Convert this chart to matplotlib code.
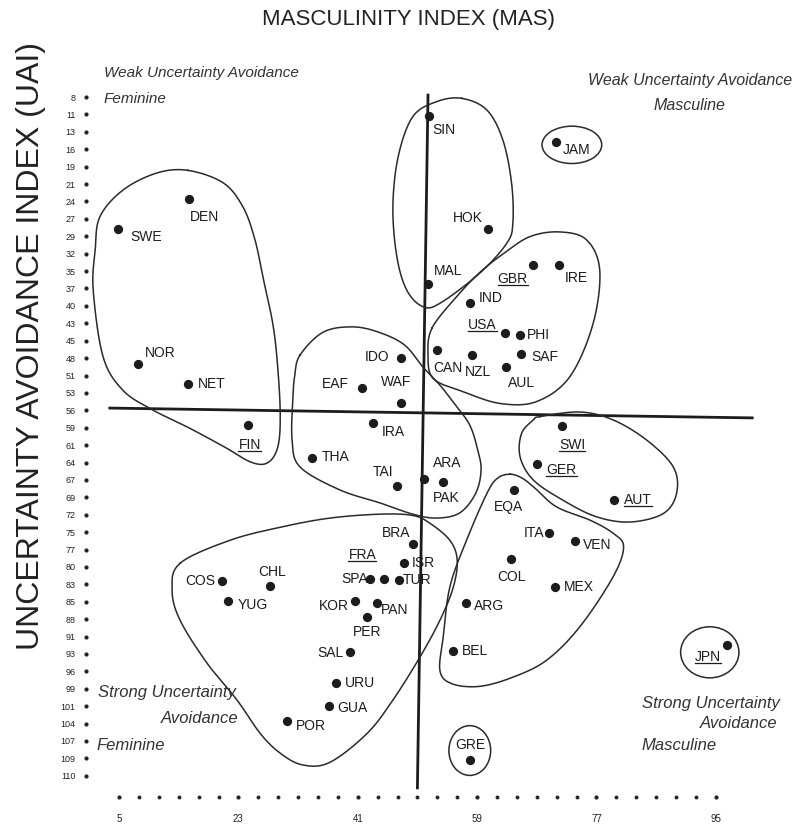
import numpy as np
import matplotlib
matplotlib.use('Agg')
import matplotlib.pyplot as plt
from matplotlib.patches import Ellipse
from matplotlib.lines import Line2D

plt.rcParams['font.family'] = ['Liberation Sans Narrow', 'Liberation Sans', 'DejaVu Sans']

# country positions (MAS, UAI)
countries = ['SWE', 'DEN', 'NOR', 'NET', 'FIN', 'SIN', 'JAM', 'HOK', 'MAL', 'GBR',
             'IRE', 'IND', 'USA', 'PHI', 'CAN', 'NZL', 'SAF', 'AUL', 'IDO', 'WAF',
             'EAF', 'IRA', 'SWI', 'THA', 'GER', 'TAI', 'ARA', 'PAK', 'EQA', 'AUT',
             'BRA', 'ITA', 'VEN', 'ISR', 'SPA', 'FRA', 'TUR', 'COL', 'MEX', 'KOR',
             'PAN', 'PER', 'ARG', 'COS', 'CHL', 'YUG', 'SAL', 'URU', 'GUA', 'POR',
             'BEL', 'GRE', 'JPN']
mas = [4.9, 15.6, 7.8, 15.4, 24.4, 51.7, 70.9, 60.6, 51.6, 67.4,
       71.3, 57.9, 63.2, 65.5, 53.0, 58.2, 65.7, 63.3, 47.6, 47.6,
       41.6, 43.3, 71.8, 34.1, 68.1, 46.9, 53.8, 51.0, 64.6, 79.7,
       49.4, 69.9, 73.8, 48.0, 42.9, 45.0, 47.2, 64.1, 70.8, 40.6,
       43.9, 42.4, 57.4, 20.6, 27.7, 21.4, 39.9, 37.7, 36.7, 30.3,
       55.4, 57.9, 96.7]
uai = [28.2, 23.6, 48.8, 51.8, 58.1, 10.9, 14.8, 28.2, 36.5, 33.6,
       33.7, 39.4, 44.0, 44.4, 46.6, 47.4, 47.2, 49.3, 47.9, 54.7,
       52.4, 57.8, 58.3, 63.2, 64.1, 67.4, 66.8, 66.4, 68.0, 69.6,
       76.3, 74.6, 75.8, 79.2, 81.6, 81.6, 81.8, 78.6, 82.8, 85.0,
       85.3, 87.4, 85.2, 81.9, 82.7, 84.9, 92.7, 97.5, 101.0, 103.3,
       92.6, 109.3, 91.7]
underlined = ['GBR', 'USA', 'FIN', 'SWI', 'GER', 'AUT', 'FRA', 'JPN']

uai_tick_labels = [8, 11, 13, 16, 19, 21, 24, 27, 29, 32, 35, 37, 40, 43, 45, 48, 51, 53, 56, 59,
                   61, 64, 67, 69, 72, 75, 77, 80, 83, 85, 88, 91, 93, 96, 99, 101, 104, 107, 109, 110]
mas_tick_labels = [5, 23, 41, 59, 77, 95]

# dividing lines (slightly skewed in the scan)
split_mas = ([51.6, 50.0], [7.7, 113.5])
split_uai = ([3.6, 100.5], [55.5, 57.0])

# cluster outlines, (MAS, UAI) control points
clusters = [
    [(15.4, 19.2), (20.7, 21.1), (23.7, 24.8), (25.5, 29.8), (26.7, 35.5), (28.1, 42.1),
     (28.8, 47.7), (29.3, 55.8), (29.0, 61.2), (27.5, 63.8), (25.0, 63.8), (21.0, 61.5),
     (15.7, 58.6), (10.1, 55.8), (5.6, 52.8), (2.6, 47.7), (1.1, 37.5), (1.4, 31.4),
     (2.1, 26.3), (5.6, 22.2), (10.7, 19.6)],
    [(56.7, 8.2), (60.5, 10.0), (62.9, 14.6), (64.2, 21.1), (64.4, 27.2), (63.5, 30.3),
     (59.4, 34.9), (53.4, 39.5), (50.8, 40.0), (48.4, 37.5), (46.9, 32.4), (46.3, 24.8),
     (47.1, 17.1), (49.3, 11.0), (52.9, 8.7)],
    [(52.2, 43.3), (55.9, 38.5), (59.4, 34.8), (63.0, 31.9), (67.0, 29.3), (71.5, 28.6),
     (75.5, 29.8), (77.5, 34.4), (76.5, 42.6), (73.0, 50.7), (68.0, 54.5), (62.5, 54.8),
     (56.9, 53.0), (52.4, 51.0), (51.6, 47.4)],
    [(32.3, 47.4), (35.8, 43.9), (40.3, 43.1), (44.4, 44.0), (48.1, 45.9), (50.8, 49.2),
     (53.4, 52.0), (55.7, 55.0), (57.9, 58.1), (59.1, 61.9), (59.6, 65.0), (58.8, 68.5),
     (56.4, 71.5), (52.9, 72.3), (49.3, 71.7), (44.4, 70.0), (38.3, 68.0), (32.3, 64.5),
     (31.1, 60.4), (31.2, 54.3), (31.5, 50.5)],
    [(14.2, 79.2), (21.7, 75.7), (29.3, 73.7), (36.8, 72.3), (44.4, 71.7), (49.3, 71.9),
     (51.9, 73.1), (54.9, 75.7), (56.0, 78.7), (55.4, 82.9), (53.4, 87.9), (50.4, 93.5),
     (46.3, 100.1), (42.4, 105.2), (36.8, 109.6), (32.7, 110.0), (29.3, 108.2),
     (26.3, 105.2), (22.8, 100.1), (18.3, 94.5), (14.2, 87.9), (13.0, 83.3)],
    [(64.0, 65.6), (65.8, 66.2), (67.7, 67.7), (71.0, 70.6), (76.0, 72.6), (79.5, 74.6),
     (81.1, 76.7), (79.5, 81.3), (74.5, 88.9), (69.5, 94.0), (64.4, 96.6), (59.4, 98.0),
     (55.2, 97.6), (53.4, 95.6), (53.9, 90.4), (54.9, 82.8), (57.4, 75.7), (60.5, 68.5),
     (62.1, 66.2)],
    [(68.5, 56.8), (74.5, 56.1), (79.5, 57.3), (84.6, 60.4), (88.6, 64.5), (89.1, 68.5),
     (87.1, 71.6), (82.1, 72.9), (77.0, 72.1), (72.0, 69.6), (67.5, 66.5), (65.5, 63.0),
     (65.7, 59.4), (67.5, 57.3)],
]
# single-country circles: centre MAS, centre UAI, width, height
circles = [(73.3, 15.3, 9.0, 5.7), (57.9, 107.8, 6.3, 7.6), (94.1, 92.8, 8.8, 7.8)]

# label placement: offset in pixels from the dot, alignment
label_pos = {
    'SWE': (12, -8, 'left'), 'DEN': (1, -18, 'left'), 'NOR': (7, 11, 'left'),
    'NET': (10, 0, 'left'), 'FIN': (2, -20, 'center'), 'SIN': (4, -14, 'left'),
    'JAM': (7, -8, 'left'), 'HOK': (-5, 11, 'right'), 'MAL': (6, 13, 'left'),
    'GBR': (-5, -14, 'right'), 'IRE': (6, -13, 'left'), 'IND': (9, 5, 'left'),
    'USA': (-8, 8, 'right'), 'PHI': (7, 0, 'left'), 'CAN': (-4, -18, 'left'),
    'NZL': (-7, -17, 'left'), 'SAF': (10, -3, 'left'), 'AUL': (2, -16, 'left'),
    'IDO': (-12, 1, 'right'), 'WAF': (-5, 21, 'center'), 'EAF': (-13, 4, 'right'),
    'IRA': (9, -9, 'left'), 'THA': (10, 1, 'left'), 'TAI': (-3, 14, 'right'),
    'ARA': (5, 19, 'center'), 'PAK': (9, -19, 'left'), 'SWI': (-3, -19, 'left'),
    'GER': (9, -6, 'left'), 'EQA': (-6, -17, 'center'), 'AUT': (10, 0, 'left'),
    'BRA': (-3, 11, 'right'), 'ITA': (-5, 0, 'right'), 'VEN': (8, -4, 'left'),
    'ISR': (8, 0, 'left'), 'SPA': (-2, 0, 'right'), 'FRA': (-22, 24, 'center'),
    'TUR': (4, 0, 'left'), 'COL': (1, -18, 'center'), 'MEX': (9, 0, 'left'),
    'KOR': (-6, -5, 'right'), 'PAN': (4, -7, 'left'), 'PER': (0, -15, 'center'),
    'ARG': (8, -3, 'left'), 'COS': (-7, 0, 'right'), 'CHL': (3, 14, 'center'),
    'YUG': (10, -4, 'left'), 'SAL': (-7, -1, 'right'), 'URU': (9, 0, 'left'),
    'GUA': (8, -2, 'left'), 'POR': (9, -5, 'left'), 'BEL': (9, 0, 'left'),
    'GRE': (1, 15, 'center'), 'JPN': (-6, -12, 'right'),
}


def smooth_closed(pts, n=24):
    p = np.asarray(pts, dtype=float)
    k = len(p)
    t = np.linspace(0, 1, n, endpoint=False)[:, None]
    segs = []
    for i in range(k):
        p0, p1, p2, p3 = p[i - 1], p[i], p[(i + 1) % k], p[(i + 2) % k]
        segs.append(0.5 * (2 * p1 + (-p0 + p2) * t + (2 * p0 - 5 * p1 + 4 * p2 - p3) * t ** 2
                           + (-p0 + 3 * p1 - 3 * p2 + p3) * t ** 3))
    out = np.vstack(segs)
    return np.vstack([out, out[:1]])


fig = plt.figure(figsize=(8, 8.38), dpi=100)
ax = fig.add_axes([0.1074, 0.0489, 0.8801, 0.8914])
ax.set_xlim(0, 106.2)
ax.set_ylim(114.9, 0.82)
for s in ax.spines.values():
    s.set_visible(False)

ink = '#1c1c1c'

# dividing lines
ax.plot(split_mas[0], split_mas[1], color=ink, lw=2.0)
ax.plot(split_uai[0], split_uai[1], color=ink, lw=2.0)

# cluster outlines
for c in clusters:
    xy = smooth_closed(c)
    ax.plot(xy[:, 0], xy[:, 1], color='#2a2a2a', lw=1.1)
for cx, cy, w, h in circles:
    ax.add_patch(Ellipse((cx, cy), w, h, fill=False, ec='#2a2a2a', lw=1.1))

# countries
ax.scatter(mas, uai, s=32, color=ink, zorder=3)
under_texts = []
for name, x, y in zip(countries, mas, uai):
    dx, dy, ha = label_pos[name]
    t = ax.annotate(name, (x, y), xytext=(dx, dy), textcoords='offset pixels',
                    ha=ha, va='center', fontsize=10, color=ink)
    if name in underlined:
        under_texts.append(t)

# axes ticks as dotted scales
ypos = 8 + np.arange(len(uai_tick_labels)) * 101 / 38
ax.set_yticks(ypos)
ax.set_yticklabels([str(v) for v in uai_tick_labels], fontsize=6.5, color='#222')
ax.set_xticks(mas_tick_labels)
ax.set_xticklabels([str(v) for v in mas_tick_labels], fontsize=7, color='#222')
ax.set_xticks(np.arange(5, 96, 3), minor=True)
ax.tick_params(axis='y', pad=4)
ax.tick_params(axis='x', which='major', pad=9)
for tk in ax.yaxis.get_major_ticks() + ax.xaxis.get_major_ticks() + ax.xaxis.get_minor_ticks():
    tk.tick1line.set_marker('o')
    tk.tick1line.set_markersize(2.2)
    tk.tick1line.set_markerfacecolor('#222')
    tk.tick1line.set_markeredgecolor('#222')

# titles
fig.text(408 / 800, 1 - 20 / 838, 'MASCULINITY INDEX (MAS)', ha='center', va='center',
         fontsize=16, family=['Liberation Sans', 'DejaVu Sans'], color='#222')
fig.text(31 / 800, 1 - 346 / 838, 'UNCERTAINTY AVOIDANCE INDEX (UAI)', ha='center', va='center',
         rotation=90, fontsize=23, family=['Liberation Sans', 'DejaVu Sans'], color='#222')

# quadrant notes
qkw = dict(style='italic', va='center', color='#333')
fig.text(104 / 800, 1 - 73 / 838, 'Weak Uncertainty Avoidance', ha='left', fontsize=11, **qkw)
fig.text(104 / 800, 1 - 99 / 838, 'Feminine', ha='left', fontsize=11, **qkw)
fig.text(690 / 800, 1 - 80 / 838, 'Weak Uncertainty Avoidance', ha='center', fontsize=11.5, **qkw)
fig.text(689 / 800, 1 - 105 / 838, 'Masculine', ha='center', fontsize=11.5, **qkw)
fig.text(98 / 800, 1 - 692 / 838, 'Strong Uncertainty', ha='left', fontsize=12, **qkw)
fig.text(238 / 800, 1 - 718 / 838, 'Avoidance', ha='right', fontsize=12, **qkw)
fig.text(96 / 800, 1 - 745 / 838, 'Feminine', ha='left', fontsize=12, **qkw)
fig.text(642 / 800, 1 - 703 / 838, 'Strong Uncertainty', ha='left', fontsize=12, **qkw)
fig.text(777 / 800, 1 - 723 / 838, 'Avoidance', ha='right', fontsize=12, **qkw)
fig.text(641 / 800, 1 - 745 / 838, 'Masculine', ha='left', fontsize=12, **qkw)

# underline some labels
fig.canvas.draw()
rend = fig.canvas.get_renderer()
inv = fig.transFigure.inverted()
for t in under_texts:
    bb = t.get_window_extent(rend)
    (x0, y0), (x1, _) = inv.transform([(bb.x0, bb.y0 + 1), (bb.x1, bb.y0 + 1)])
    fig.add_artist(Line2D([x0, x1], [y0, y0], transform=fig.transFigure, color=ink, lw=0.9))

fig.savefig('out.png', dpi=100)
